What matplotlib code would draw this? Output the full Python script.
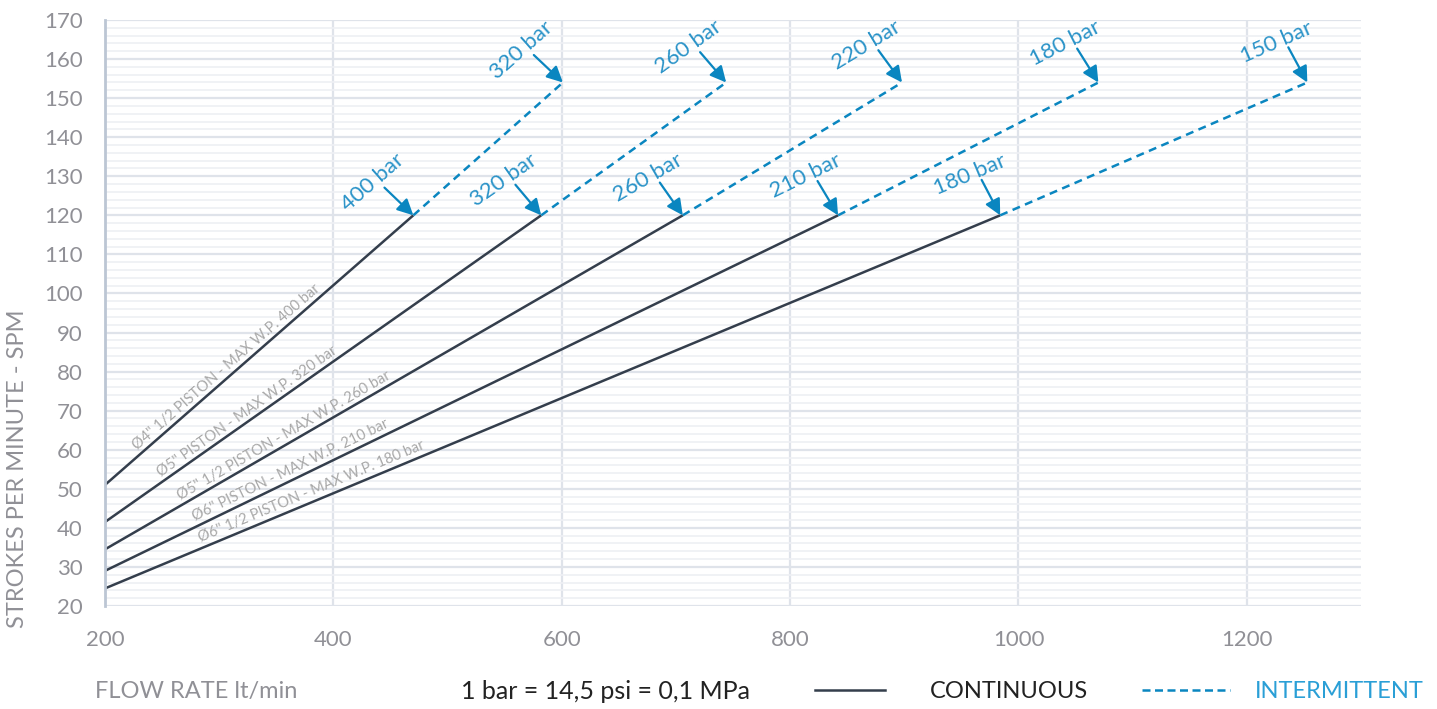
import numpy as np
import matplotlib
matplotlib.use("Agg")
import matplotlib.pyplot as plt
from matplotlib.lines import Line2D
from matplotlib.transforms import offset_copy

plt.rcParams['font.family'] = ['Lato', 'DejaVu Sans']

# Dati
flow_start = 200
spm_start = [51, 41.5, 34.5, 29, 24.5]
flow_cont = [470, 582, 706, 842, 984]
spm_cont = [120, 120, 120, 120, 120]
flow_int = [601, 744, 898, 1070, 1253]
spm_int = [154, 154, 154, 154, 154]
cont_labels = ['400 bar', '320 bar', '260 bar', '210 bar', '180 bar']
int_labels = ['320 bar', '260 bar', '220 bar', '180 bar', '150 bar']
pistons = ['Ø4" 1/2 PISTON - MAX W.P. 400 bar',
           'Ø5" PISTON - MAX W.P. 320 bar',
           'Ø5" 1/2 PISTON - MAX W.P. 260 bar',
           'Ø6" PISTON - MAX W.P. 210 bar',
           'Ø6" 1/2 PISTON - MAX W.P. 180 bar']
piston_x = [230, 250, 267, 280, 285]
x_ticks = [200, 400, 600, 800, 1000, 1200]
y_ticks = list(range(20, 171, 10))

dark = '#343e4c'
blue = '#0a86c0'
label_blue = '#2a93c8'
grey = '#909096'

fig = plt.figure(figsize=(14.37, 7.09), dpi=100)
ax = fig.add_axes([0.0731, 0.1453, 0.874, 0.8265])
ax.set_xlim(200, 1300)
ax.set_ylim(20, 170)

# griglia
ax.set_xticks(x_ticks)
ax.set_yticks(y_ticks)
ax.set_yticks(np.arange(20, 171, 2), minor=True)
ax.grid(True, which='major', color='#dfe3ea', lw=1.6)
ax.grid(True, which='minor', axis='y', color='#eef0f4', lw=1.2)
ax.set_axisbelow(True)
for s in ['top', 'right', 'bottom']:
    ax.spines[s].set_visible(False)
ax.spines['left'].set_color('#bcc6d4')
ax.spines['left'].set_linewidth(2)
ax.tick_params(which='both', length=0)
ax.tick_params(axis='x', pad=17, labelsize=16, labelcolor=grey)
ax.tick_params(axis='y', pad=16, labelsize=16, labelcolor=grey)

fig.canvas.draw()


def angle(x0, y0, x1, y1):
    p0 = ax.transData.transform((x0, y0))
    p1 = ax.transData.transform((x1, y1))
    return np.degrees(np.arctan2(p1[1] - p0[1], p1[0] - p0[0]))


def bar_label(x, y, text, ang):
    # freccia circa perpendicolare alla linea, testo sopra
    a = np.radians(ang + 95)
    L = 40
    tail = (L * np.cos(a), L * np.sin(a))
    ax.annotate('', xy=(x, y), xytext=(tail[0] * 0.72, tail[1] * 0.72),
                textcoords='offset points',
                arrowprops=dict(arrowstyle='-|>', color=blue, lw=1.6,
                                mutation_scale=24, shrinkA=0, shrinkB=0))
    tr = offset_copy(ax.transData, fig=fig, x=(tail[0] - 12) * 0.72,
                     y=(tail[1] + 5) * 0.72, units='points')
    ax.text(x, y, text, transform=tr, rotation=ang, rotation_mode='anchor',
            ha='center', va='center', fontsize=16, color=label_blue)


for i in range(5):
    ax.plot([flow_start, flow_cont[i]], [spm_start[i], spm_cont[i]],
            color=dark, lw=1.8, solid_capstyle='butt')
    ax.plot([flow_cont[i], flow_int[i]], [spm_cont[i], spm_int[i]],
            color=blue, lw=1.8, dashes=(3.2, 2.2))
    a1 = angle(flow_start, spm_start[i], flow_cont[i], spm_cont[i])
    a2 = angle(flow_cont[i], spm_cont[i], flow_int[i], spm_int[i])
    bar_label(flow_cont[i], spm_cont[i], cont_labels[i], a1)
    bar_label(flow_int[i], spm_int[i], int_labels[i], a2)
    # etichetta del pistone lungo la linea
    slope = (spm_cont[i] - spm_start[i]) / (flow_cont[i] - flow_start)
    py = spm_start[i] + slope * (piston_x[i] - flow_start)
    tr = offset_copy(ax.transData, fig=fig, x=0, y=2, units='points')
    ax.text(piston_x[i], py, pistons[i], transform=tr, rotation=a1,
            rotation_mode='anchor', ha='left', va='bottom', fontsize=10.5,
            color='#a8a8a8')

# testi in basso e legenda
fig.text(0.0125, 0.339, 'STROKES PER MINUTE - SPM', rotation=90, ha='center',
         va='center', fontsize=17, color=grey)
fig.text(0.066, 0.024, 'FLOW RATE lt/min', ha='left', va='center',
         fontsize=17, color=grey)
fig.text(0.4217, 0.024, '1 bar = 14,5 psi = 0,1 MPa', ha='center', va='center',
         fontsize=18, color='#222222')
fig.add_artist(Line2D([0.567, 0.616], [0.027, 0.027], color=dark, lw=1.8,
                      transform=fig.transFigure))
fig.text(0.647, 0.024, 'CONTINUOUS', ha='left', va='center', fontsize=17,
         color='#222222')
fig.add_artist(Line2D([0.795, 0.856], [0.027, 0.027], color=blue, lw=1.8,
                      dashes=(3.2, 1.8), transform=fig.transFigure))
fig.text(0.873, 0.024, 'INTERMITTENT', ha='left', va='center', fontsize=17,
         color='#2a9fd6')

fig.savefig('out.png', dpi=100)
